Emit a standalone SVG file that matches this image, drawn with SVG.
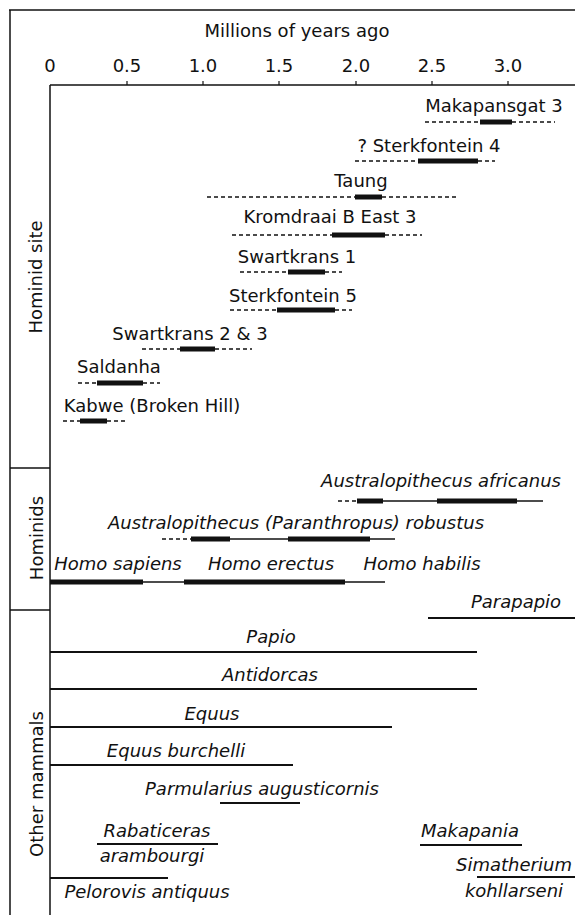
<svg xmlns="http://www.w3.org/2000/svg" width="575" height="915" viewBox="0 0 575 915">
<style>
text{font-family:"DejaVu Sans","Liberation Sans",sans-serif;font-size:18px;fill:#111;text-anchor:middle}
.it{font-style:italic}
.frame{stroke:#111;stroke-width:1.5;fill:none}
.dash{stroke:#111;stroke-width:1.5;stroke-dasharray:4 3;fill:none}
.thick{stroke:#111;stroke-width:5;fill:none}
.thin{stroke:#111;stroke-width:1.5;fill:none}
.rng{stroke:#111;stroke-width:2;fill:none}
.tick{stroke:#111;stroke-width:1.2}
</style>
<rect width="575" height="915" fill="#fff"/>
<g id="frame">
<line class="frame" x1="9" y1="10" x2="575" y2="10"/>
<line class="frame" x1="10" y1="10" x2="10" y2="915"/>
<line class="frame" x1="50" y1="85" x2="50" y2="915"/>
<line class="frame" x1="50" y1="85" x2="575" y2="85"/>
<line class="frame" x1="10" y1="468" x2="50" y2="468"/>
<line class="frame" x1="10" y1="610" x2="50" y2="610"/>
</g>
<g id="axis">
<text x="297" y="37">Millions of years ago</text>
<text x="50" y="72">0</text>
<text x="127" y="72">0.5</text>
<text x="203" y="72">1.0</text>
<text x="279" y="72">1.5</text>
<text x="356" y="72">2.0</text>
<text x="432" y="72">2.5</text>
<text x="508" y="72">3.0</text>
<line class="tick" x1="127" y1="81" x2="127" y2="85"/>
<line class="tick" x1="203" y1="81" x2="203" y2="85"/>
<line class="tick" x1="279" y1="81" x2="279" y2="85"/>
<line class="tick" x1="356" y1="81" x2="356" y2="85"/>
<line class="tick" x1="432" y1="81" x2="432" y2="85"/>
<line class="tick" x1="508" y1="81" x2="508" y2="85"/>
</g>
<g id="section-labels">
<text transform="translate(42,277) rotate(-90)">Hominid site</text>
<text transform="translate(43,538) rotate(-90)">Hominids</text>
<text transform="translate(43,784) rotate(-90)">Other mammals</text>
</g>
<g id="connectors"></g>
<g id="makapansgat3">
<text x="494" y="112">Makapansgat 3</text>
<line class="dash" x1="425" y1="122" x2="480" y2="122"/>
<line class="thick" x1="480" y1="122" x2="512" y2="122"/>
<line class="dash" x1="512" y1="122" x2="555" y2="122"/>
</g>
<g id="sterkfontein4">
<text x="429" y="152">? Sterkfontein 4</text>
<line class="dash" x1="355" y1="161" x2="418" y2="161"/>
<line class="thick" x1="418" y1="161" x2="478" y2="161"/>
<line class="dash" x1="478" y1="161" x2="495" y2="161"/>
</g>
<g id="taung">
<text x="361" y="187">Taung</text>
<line class="dash" x1="207" y1="197" x2="355" y2="197"/>
<line class="thick" x1="355" y1="197" x2="382" y2="197"/>
<line class="dash" x1="382" y1="197" x2="458" y2="197"/>
</g>
<g id="kromdraai">
<text x="330" y="223">Kromdraai B East 3</text>
<line class="dash" x1="232" y1="235" x2="332" y2="235"/>
<line class="thick" x1="332" y1="235" x2="385" y2="235"/>
<line class="dash" x1="385" y1="235" x2="422" y2="235"/>
</g>
<g id="swartkrans1">
<text x="297" y="263">Swartkrans 1</text>
<line class="dash" x1="240" y1="272" x2="288" y2="272"/>
<line class="thick" x1="288" y1="272" x2="325" y2="272"/>
<line class="dash" x1="325" y1="272" x2="342" y2="272"/>
</g>
<g id="sterkfontein5">
<text x="293" y="302">Sterkfontein 5</text>
<line class="dash" x1="230" y1="310" x2="277" y2="310"/>
<line class="thick" x1="277" y1="310" x2="335" y2="310"/>
<line class="dash" x1="335" y1="310" x2="352" y2="310"/>
</g>
<g id="swartkrans23">
<text x="190" y="340">Swartkrans 2 &amp; 3</text>
<line class="dash" x1="142" y1="349" x2="180" y2="349"/>
<line class="thick" x1="180" y1="349" x2="215" y2="349"/>
<line class="dash" x1="215" y1="349" x2="252" y2="349"/>
</g>
<g id="saldanha">
<text x="119" y="373">Saldanha</text>
<line class="dash" x1="78" y1="383" x2="97" y2="383"/>
<line class="thick" x1="97" y1="383" x2="143" y2="383"/>
<line class="dash" x1="143" y1="383" x2="160" y2="383"/>
</g>
<g id="kabwe">
<text x="152" y="412">Kabwe (Broken Hill)</text>
<line class="dash" x1="63" y1="421" x2="80" y2="421"/>
<line class="thick" x1="80" y1="421" x2="107" y2="421"/>
<line class="dash" x1="107" y1="421" x2="127" y2="421"/>
</g>
<g id="africanus">
<text class="it" x="441" y="487">Australopithecus africanus</text>
<line class="dash" x1="338" y1="501" x2="357" y2="501"/>
<line class="thick" x1="357" y1="501" x2="383" y2="501"/>
<line class="thin" x1="383" y1="501" x2="437" y2="501"/>
<line class="thick" x1="437" y1="501" x2="517" y2="501"/>
<line class="thin" x1="517" y1="501" x2="543" y2="501"/>
</g>
<g id="robustus">
<text class="it" x="296" y="529">Australopithecus (Paranthropus) robustus</text>
<line class="dash" x1="162" y1="539" x2="191" y2="539"/>
<line class="thick" x1="191" y1="539" x2="230" y2="539"/>
<line class="thin" x1="230" y1="539" x2="288" y2="539"/>
<line class="thick" x1="288" y1="539" x2="370" y2="539"/>
<line class="thin" x1="370" y1="539" x2="395" y2="539"/>
</g>
<g id="homo">
<text class="it" x="118" y="570">Homo sapiens</text>
<text class="it" x="271" y="570">Homo erectus</text>
<text class="it" x="422" y="570">Homo habilis</text>
<line class="thick" x1="50" y1="582" x2="143" y2="582"/>
<line class="thin" x1="143" y1="582" x2="184" y2="582"/>
<line class="thick" x1="184" y1="582" x2="345" y2="582"/>
<line class="thin" x1="345" y1="582" x2="385" y2="582"/>
</g>
<g id="parapapio">
<text class="it" x="516" y="608">Parapapio</text>
<line class="rng" x1="428" y1="618" x2="575" y2="618"/>
</g>
<g id="papio">
<text class="it" x="271" y="643">Papio</text>
<line class="rng" x1="50" y1="652" x2="477" y2="652"/>
</g>
<g id="antidorcas">
<text class="it" x="270" y="681">Antidorcas</text>
<line class="rng" x1="50" y1="689" x2="477" y2="689"/>
</g>
<g id="equus">
<text class="it" x="212" y="720">Equus</text>
<line class="rng" x1="50" y1="727" x2="392" y2="727"/>
</g>
<g id="equus-burchelli">
<text class="it" x="176" y="757">Equus burchelli</text>
<line class="rng" x1="50" y1="765" x2="293" y2="765"/>
</g>
<g id="parmularius">
<text class="it" x="262" y="795">Parmularius augusticornis</text>
<line class="rng" x1="220" y1="803" x2="300" y2="803"/>
</g>
<g id="rabaticeras">
<text class="it" x="157" y="837">Rabaticeras</text>
<line class="rng" x1="97" y1="844" x2="218" y2="844"/>
<text class="it" x="152" y="862">arambourgi</text>
</g>
<g id="pelorovis">
<line class="rng" x1="50" y1="878" x2="168" y2="878"/>
<text class="it" x="147" y="898">Pelorovis antiquus</text>
</g>
<g id="makapania">
<text class="it" x="470" y="837">Makapania</text>
<line class="rng" x1="420" y1="845" x2="522" y2="845"/>
</g>
<g id="simatherium">
<text class="it" x="514" y="871">Simatherium</text>
<line class="rng" x1="477" y1="877" x2="575" y2="877"/>
<text class="it" x="514" y="897">kohllarseni</text>
</g>
</svg>
